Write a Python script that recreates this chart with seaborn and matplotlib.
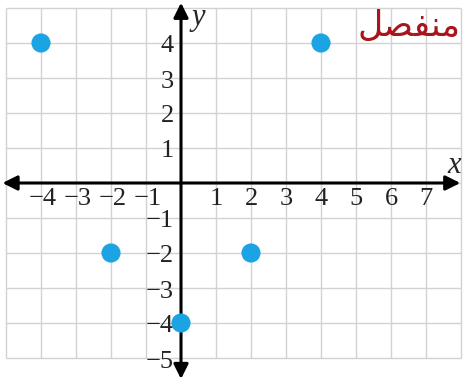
import matplotlib
matplotlib.use("Agg")
import matplotlib.pyplot as plt
import seaborn as sns
import pandas as pd

# points of the relation
x_vals = [-4, 4, -2, 2, 0]
y_vals = [4, 4, -2, -2, -4]

x_ticks = [-4, -3, -2, -1, 1, 2, 3, 4, 5, 6, 7]
y_ticks = [4, 3, 2, 1, -1, -2, -3, -4, -5]

titre = 'منفصل'


def forme_arabe(txt):
    # matplotlib ne fait pas le shaping arabe : formes de présentation à la main
    formes = {
        'م': {'init': '\uFEE3', 'medi': '\uFEE4', 'fina': '\uFEE2', 'isol': '\uFEE1'},
        'ن': {'init': '\uFEE7', 'medi': '\uFEE8', 'fina': '\uFEE6', 'isol': '\uFEE5'},
        'ف': {'init': '\uFED3', 'medi': '\uFED4', 'fina': '\uFED2', 'isol': '\uFED1'},
        'ص': {'init': '\uFEBB', 'medi': '\uFEBC', 'fina': '\uFEBA', 'isol': '\uFEB9'},
        'ل': {'init': '\uFEDF', 'medi': '\uFEE0', 'fina': '\uFEDE', 'isol': '\uFEDD'},
    }
    out = []
    n = len(txt)
    for i, c in enumerate(txt):
        if n == 1:
            f = 'isol'
        elif i == 0:
            f = 'init'
        elif i == n - 1:
            f = 'fina'
        else:
            f = 'medi'
        out.append(formes[c][f])
    return ''.join(reversed(out))


df = pd.DataFrame({'x': x_vals, 'y': y_vals})

sns.set_style('white')
plt.rcParams['font.family'] = ['Liberation Serif', 'DejaVu Serif']

fig = plt.figure(figsize=(4.63, 3.83), dpi=100)
ax = fig.add_axes([0, 0, 1, 1])
ax.set_xlim(-181 / 35, 282 / 35)
ax.set_ylim(-200 / 35, 183 / 35)
ax.axis('off')

# quadrillage
grille = '#d2d2d2'
for gx in range(-5, 9):
    ax.vlines(gx, -5, 5, color=grille, lw=1, zorder=0)
for gy in range(-5, 6):
    ax.hlines(gy, -5, 8, color=grille, lw=1, zorder=0)

# axes avec flèches
ax.annotate('', xy=(7.98, 0), xytext=(-5.1, 0),
            arrowprops=dict(arrowstyle='<|-|>', color='black', lw=2.2,
                            mutation_scale=22, shrinkA=0, shrinkB=0), zorder=2)
ax.annotate('', xy=(0, 5.15), xytext=(0, -5.6),
            arrowprops=dict(arrowstyle='<|-|>', color='black', lw=2.2,
                            mutation_scale=22, shrinkA=0, shrinkB=0), zorder=2)

sns.scatterplot(data=df, x='x', y='y', ax=ax, s=190, color='#1ba3e3',
                edgecolor='none', zorder=4, clip_on=False)

fs = 19
for t in x_ticks:
    lab = str(t).replace('-', '\u2212')
    ax.text(t + (0.05 if t < 0 else 0), -0.15, lab, ha='center', va='top',
            fontsize=fs, color='#222222', zorder=3)
for t in y_ticks:
    lab = str(t).replace('-', '\u2212')
    ax.text(-0.2, t - 0.1, lab, ha='right', va='center', fontsize=fs, color='#222222', zorder=3)

ax.text(7.62, 0.08, 'x', style='italic', fontsize=22, ha='left', va='bottom')
ax.text(0.3, 4.72, 'y', style='italic', fontsize=22, ha='left', va='center')

ax.text(8.0, 4.5, forme_arabe(titre), family=['DejaVu Sans'], fontsize=25,
        color='#a8161b', ha='right', va='center')

fig.savefig('out.png', dpi=100)
